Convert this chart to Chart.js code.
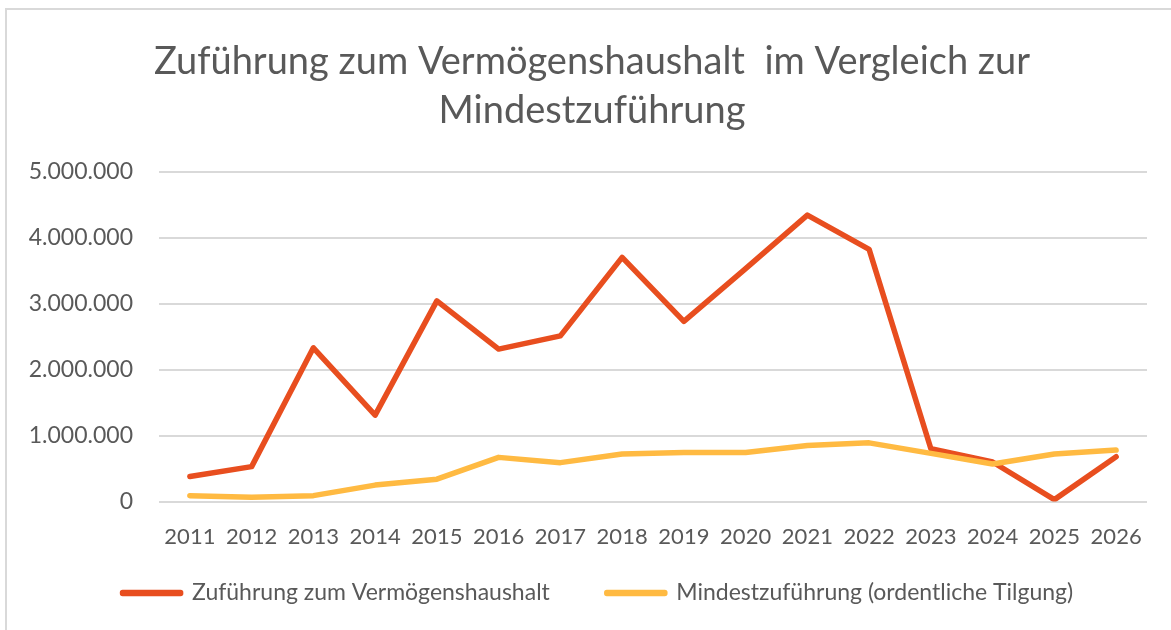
<!DOCTYPE html>
<html>
<head>
<meta charset="utf-8">
<script src="https://cdn.jsdelivr.net/npm/chart.js@4"></script>
<style>
  html, body { margin: 0; padding: 0; background: #ffffff; overflow: hidden; }
  #wrap { position: relative; width: 1171px; height: 630px; }
</style>
</head>
<body>
<div id="wrap"><canvas id="c" width="1171" height="630"></canvas></div>
<script>
const titleLines = ["Zuführung zum Vermögenshaushalt  im Vergleich zur", "Mindestzuführung"];
const years = ["2011","2012","2013","2014","2015","2016","2017","2018","2019","2020","2021","2022","2023","2024","2025","2026"];
const zufuehrung = [380000, 530000, 2330000, 1310000, 3040000, 2310000, 2510000, 3700000, 2730000, 3530000, 4340000, 3820000, 800000, 600000, 30000, 680000];
const mindest = [90000, 65000, 90000, 250000, 340000, 670000, 590000, 720000, 745000, 745000, 850000, 890000, 730000, 570000, 720000, 780000];
const seriesNames = ["Zuführung zum Vermögenshaushalt", "Mindestzuführung (ordentliche Tilgung)"];
const yTicks = [0, 1000000, 2000000, 3000000, 4000000, 5000000];

const RED = "#E84E1F";
const YELLOW = "#FFBA42";
const TXT = "#595959";
const GRID = "#D9D9D9";
const FONT = "Lato, 'Open Sans', sans-serif";

const frame = {
  id: "frame",
  beforeDraw(chart) {
    const ctx = chart.ctx;
    ctx.save();
    ctx.fillStyle = "#ffffff";
    ctx.fillRect(0, 0, chart.width, chart.height);
    ctx.fillStyle = GRID;
    ctx.fillRect(5, 8, chart.width, 2);
    ctx.fillRect(5, 8, 2, chart.height);
    ctx.restore();
  }
};

// nudge title and legend boxes to the positions seen in the reference
const boxShift = {
  id: "boxShift",
  afterLayout(chart) {
    const lg = chart.legend;
    if (lg) {
      const d = lg.top - 524.5;
      lg.top -= d; lg.bottom -= d;
      lg.left += 14.4; lg.right += 14.4;
    }
    const tb = chart.titleBlock;
    if (tb) {
      tb.left += 8.5; tb.right += 8.5;
    }
  }
};

function fmt(v) {
  return Math.round(v).toString().replace(/\B(?=(\d{3})+(?!\d))/g, ".");
}

new Chart(document.getElementById("c"), {
  type: "line",
  data: {
    labels: years,
    datasets: [
      {
        label: seriesNames[0],
        data: zufuehrung,
        borderColor: RED,
        backgroundColor: RED,
        borderWidth: 5.5,
        borderJoinStyle: "round",
        borderCapStyle: "round",
        pointRadius: 0,
        tension: 0,
        order: 2
      },
      {
        label: seriesNames[1],
        data: mindest,
        borderColor: YELLOW,
        backgroundColor: YELLOW,
        borderWidth: 5.5,
        borderJoinStyle: "round",
        borderCapStyle: "round",
        pointRadius: 0,
        tension: 0,
        order: 1
      }
    ]
  },
  options: {
    responsive: false,
    animation: false,
    devicePixelRatio: 1,
    layout: { padding: { left: 20, right: 24, top: 14, bottom: -22 } },
    plugins: {
      title: {
        display: true,
        text: titleLines,
        color: TXT,
        font: { family: FONT, size: 38, weight: "normal", lineHeight: 1.27 },
        padding: { top: 24, bottom: 37 }
      },
      legend: {
        display: true,
        position: "bottom",
        maxHeight: 80,
        labels: {
          color: TXT,
          font: { family: FONT, size: 23 },
          boxWidth: 58,
          boxHeight: 1,
          padding: 57,
          sort: (a, b) => a.datasetIndex - b.datasetIndex
        }
      },
      tooltip: { enabled: false }
    },
    scales: {
      x: {
        offset: true,
        grid: { display: false, drawTicks: false },
        border: { display: false },
        ticks: { color: TXT, font: { family: FONT, size: 22 }, padding: 22, maxRotation: 0, autoSkip: false }
      },
      y: {
        min: 0,
        max: 5000000,
        afterBuildTicks(scale) { scale.ticks = yTicks.map(v => ({ value: v })); },
        grid: { color: GRID, lineWidth: 2, drawTicks: false },
        border: { display: false },
        ticks: { color: TXT, font: { family: FONT, size: 23 }, padding: 26, callback: v => fmt(v) },
        afterFit(scale) { scale.width = 139; }
      }
    }
  },
  plugins: [frame, boxShift]
});
</script>
</body>
</html>
